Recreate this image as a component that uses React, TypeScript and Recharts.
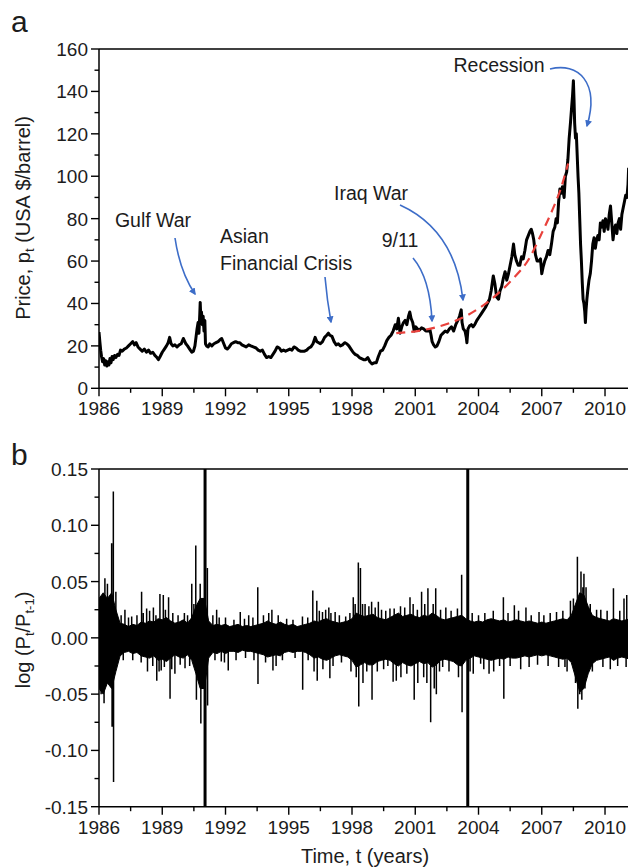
import React from 'react';
import { ComposedChart, Line, Area, XAxis, YAxis, ReferenceLine } from 'recharts';

const FONT = '"Liberation Sans", Arial, Helvetica, sans-serif';
const TEXT = '#1c1c1c';
const BLUE = '#3d6dc8';
const RED = '#e8413c';

// ---------- ticks ----------
const yearMajor = [1986, 1989, 1992, 1995, 1998, 2001, 2004, 2007, 2010];
const yearMinor = [1987.5, 1990.5, 1993.5, 1996.5, 1999.5, 2002.5, 2005.5, 2008.5];
const priceMajor = [0, 20, 40, 60, 80, 100, 120, 140, 160];
const priceMinor = [10, 30, 50, 70, 90, 110, 130, 150];
const retMajor = [-0.15, -0.1, -0.05, 0, 0.05, 0.1, 0.15];
const retMinor = [-0.125, -0.075, -0.025, 0.025, 0.075, 0.125];

// ---------- panel a: price (year, USD/barrel) ----------
const priceSeries: [number, number][] = [
  [1986.0, 26.5], [1986.04, 22], [1986.08, 18], [1986.12, 15], [1986.17, 12.5], [1986.22, 14], [1986.27, 11],
  [1986.32, 13], [1986.37, 10.5], [1986.42, 12.5], [1986.47, 11], [1986.52, 14], [1986.57, 12], [1986.62, 15],
  [1986.67, 13.5], [1986.74, 15.5], [1986.8, 14.5], [1986.88, 16], [1986.95, 15.5], [1987.02, 18], [1987.1, 17.5],
  [1987.2, 18.5], [1987.3, 19], [1987.4, 20], [1987.5, 21], [1987.6, 22], [1987.68, 20.5], [1987.76, 21.5],
  [1987.85, 19.5], [1987.95, 18.5], [1988.05, 17.5], [1988.15, 18.5], [1988.25, 17], [1988.35, 18], [1988.45, 16.5],
  [1988.55, 17], [1988.65, 15.5], [1988.75, 14.5], [1988.82, 13.5], [1988.9, 15], [1989.0, 17], [1989.1, 18.5],
  [1989.2, 20], [1989.28, 21.5], [1989.35, 24], [1989.42, 21], [1989.5, 20], [1989.6, 20.5], [1989.7, 19.5],
  [1989.8, 20.5], [1989.9, 21], [1990.0, 23.5], [1990.05, 22.5], [1990.12, 21], [1990.2, 20], [1990.3, 18.5],
  [1990.4, 17], [1990.48, 17.5], [1990.55, 20], [1990.6, 24], [1990.65, 28], [1990.7, 31], [1990.74, 26],
  [1990.78, 35], [1990.8, 40.5], [1990.83, 33], [1990.86, 36], [1990.9, 30], [1990.94, 34], [1990.98, 27],
  [1991.02, 32], [1991.05, 21], [1991.1, 20], [1991.18, 19.5], [1991.25, 21], [1991.35, 20], [1991.45, 21],
  [1991.55, 21.5], [1991.65, 22], [1991.75, 23], [1991.82, 23.5], [1991.9, 21.5], [1992.0, 19], [1992.08, 18.5],
  [1992.18, 19.5], [1992.28, 21], [1992.38, 21.5], [1992.48, 22], [1992.58, 21.5], [1992.68, 21.5], [1992.78, 20.5],
  [1992.88, 20], [1992.98, 19.5], [1993.1, 20.5], [1993.2, 20], [1993.32, 19.5], [1993.45, 19], [1993.55, 18],
  [1993.65, 17.5], [1993.75, 18], [1993.85, 16], [1993.95, 14.5], [1994.05, 15], [1994.15, 14.5], [1994.25, 16],
  [1994.35, 17.5], [1994.45, 19.5], [1994.55, 19], [1994.65, 17.5], [1994.75, 18], [1994.85, 17.5], [1994.95, 18],
  [1995.05, 18.5], [1995.15, 18], [1995.25, 19.5], [1995.35, 19], [1995.45, 18], [1995.55, 17.5], [1995.65, 17.5],
  [1995.75, 17.5], [1995.85, 18], [1995.95, 19], [1996.05, 19.5], [1996.15, 21], [1996.25, 24], [1996.33, 22],
  [1996.42, 21.5], [1996.5, 21], [1996.6, 22], [1996.7, 24], [1996.8, 25], [1996.88, 26], [1996.95, 25],
  [1997.05, 24.5], [1997.15, 22], [1997.25, 20.5], [1997.35, 21], [1997.45, 20], [1997.55, 20.5], [1997.65, 21.5],
  [1997.75, 21], [1997.85, 20], [1997.95, 18.5], [1998.05, 17], [1998.15, 16], [1998.25, 15.5], [1998.35, 14.5],
  [1998.45, 14], [1998.55, 13.5], [1998.65, 13.5], [1998.75, 14.5], [1998.85, 12.5], [1998.95, 11.5], [1999.05, 12],
  [1999.15, 12], [1999.25, 15], [1999.35, 17.5], [1999.45, 18], [1999.55, 20], [1999.65, 22.5], [1999.75, 24],
  [1999.85, 25], [1999.95, 27], [2000.05, 30], [2000.12, 28], [2000.2, 33], [2000.28, 26], [2000.36, 29],
  [2000.44, 31], [2000.52, 32], [2000.6, 30], [2000.68, 34], [2000.74, 36], [2000.8, 33], [2000.88, 31],
  [2000.95, 27], [2001.02, 29], [2001.1, 28], [2001.2, 27.5], [2001.3, 28.5], [2001.4, 28], [2001.5, 27],
  [2001.6, 27], [2001.7, 27.5], [2001.75, 25], [2001.8, 22], [2001.87, 20.5], [2001.95, 19.5], [2002.03, 20],
  [2002.12, 22], [2002.22, 25], [2002.32, 26], [2002.42, 27], [2002.52, 26.5], [2002.62, 28], [2002.72, 29],
  [2002.82, 27], [2002.92, 30], [2003.02, 32], [2003.1, 34], [2003.18, 37], [2003.22, 31], [2003.28, 28],
  [2003.36, 27], [2003.42, 24], [2003.45, 21.5], [2003.5, 28], [2003.58, 29.5], [2003.66, 30], [2003.74, 29],
  [2003.82, 30], [2003.92, 32], [2004.02, 33.5], [2004.12, 35], [2004.22, 36.5], [2004.32, 38], [2004.42, 40],
  [2004.52, 42], [2004.6, 46], [2004.7, 53], [2004.78, 49], [2004.86, 43], [2004.95, 42], [2005.02, 46],
  [2005.1, 48], [2005.18, 52], [2005.26, 55], [2005.34, 51], [2005.42, 54], [2005.5, 58], [2005.58, 62],
  [2005.66, 68], [2005.72, 63], [2005.8, 60], [2005.88, 58], [2005.96, 58], [2006.04, 62], [2006.12, 61],
  [2006.2, 65], [2006.28, 70], [2006.36, 72], [2006.44, 74], [2006.5, 75], [2006.56, 73], [2006.62, 70],
  [2006.7, 63], [2006.78, 60], [2006.86, 60], [2006.94, 61], [2007.0, 54], [2007.06, 57], [2007.14, 60],
  [2007.22, 62], [2007.3, 65], [2007.38, 63], [2007.46, 68], [2007.54, 74], [2007.62, 76], [2007.68, 80],
  [2007.74, 78], [2007.8, 88], [2007.86, 94], [2007.92, 92], [2007.98, 95], [2008.06, 90], [2008.12, 100],
  [2008.18, 102], [2008.24, 108], [2008.3, 118], [2008.36, 125], [2008.42, 133], [2008.46, 138], [2008.5, 145],
  [2008.53, 136], [2008.56, 125], [2008.6, 118], [2008.64, 120], [2008.68, 110], [2008.72, 100], [2008.76, 92],
  [2008.8, 80], [2008.84, 68], [2008.88, 60], [2008.92, 50], [2008.96, 42], [2009.0, 40], [2009.04, 36],
  [2009.07, 31], [2009.1, 37], [2009.14, 42], [2009.18, 46], [2009.24, 51], [2009.3, 54], [2009.36, 60],
  [2009.42, 68], [2009.48, 71], [2009.54, 66], [2009.6, 70], [2009.66, 72], [2009.72, 70], [2009.78, 78],
  [2009.84, 76], [2009.9, 79], [2009.96, 74], [2010.02, 80], [2010.08, 78], [2010.14, 75], [2010.2, 82],
  [2010.26, 86], [2010.32, 78], [2010.38, 70], [2010.44, 75], [2010.5, 77], [2010.56, 73], [2010.62, 78],
  [2010.68, 80], [2010.74, 75], [2010.8, 82], [2010.86, 85], [2010.92, 88], [2010.98, 91], [2011.04, 90],
  [2011.09, 96], [2011.12, 104],
];

// red dashed trend
const trendSeries: [number, number][] = [
  [2000.1, 26], [2001.4, 27.5], [2002.5, 30.3], [2003.5, 34.6], [2004.45, 40.8], [2005.5, 50.3],
  [2006.45, 62], [2006.92, 71.5], [2007.5, 84], [2007.88, 93.5], [2008.25, 106],
];

// ---------- panel b: log returns ----------
// [year, upper edge of dense band, lower edge of dense band]
const bandSeries: [number, number, number][] = [
  [1986.0, 0.035, -0.045], [1986.2, 0.04, -0.05], [1986.4, 0.035, -0.04], [1986.6, 0.04, -0.045], [1986.8, 0.025, -0.03],
  [1987.0, 0.013, -0.016], [1987.2, 0.012, -0.013], [1987.4, 0.01, -0.012], [1987.6, 0.012, -0.014], [1987.8, 0.011, -0.013],
  [1988.0, 0.014, -0.016], [1988.2, 0.013, -0.017], [1988.4, 0.015, -0.018], [1988.6, 0.014, -0.016], [1988.8, 0.017, -0.02],
  [1989.0, 0.016, -0.019], [1989.2, 0.018, -0.021], [1989.4, 0.015, -0.018], [1989.6, 0.013, -0.015], [1989.8, 0.014, -0.017],
  [1990.0, 0.016, -0.018], [1990.2, 0.013, -0.015], [1990.4, 0.018, -0.02], [1990.6, 0.028, -0.032], [1990.8, 0.035, -0.045],
  [1991.0, 0.035, -0.045], [1991.2, 0.015, -0.018], [1991.4, 0.011, -0.013], [1991.6, 0.012, -0.014], [1991.8, 0.011, -0.012],
  [1992.0, 0.012, -0.014], [1992.2, 0.01, -0.012], [1992.4, 0.011, -0.012], [1992.6, 0.012, -0.013], [1992.8, 0.01, -0.011],
  [1993.0, 0.011, -0.012], [1993.2, 0.01, -0.012], [1993.4, 0.011, -0.013], [1993.6, 0.012, -0.014], [1993.8, 0.013, -0.015],
  [1994.0, 0.015, -0.017], [1994.2, 0.013, -0.016], [1994.4, 0.012, -0.015], [1994.6, 0.014, -0.016], [1994.8, 0.012, -0.013],
  [1995.0, 0.011, -0.012], [1995.2, 0.012, -0.013], [1995.4, 0.01, -0.012], [1995.6, 0.011, -0.012], [1995.8, 0.012, -0.013],
  [1996.0, 0.013, -0.015], [1996.2, 0.015, -0.018], [1996.4, 0.014, -0.017], [1996.6, 0.016, -0.019], [1996.8, 0.017, -0.02],
  [1997.0, 0.015, -0.018], [1997.2, 0.014, -0.016], [1997.4, 0.013, -0.015], [1997.6, 0.014, -0.016], [1997.8, 0.015, -0.017],
  [1998.0, 0.017, -0.02], [1998.2, 0.022, -0.026], [1998.4, 0.02, -0.024], [1998.6, 0.019, -0.022], [1998.8, 0.02, -0.024],
  [1999.0, 0.021, -0.024], [1999.2, 0.018, -0.021], [1999.4, 0.017, -0.02], [1999.6, 0.016, -0.019], [1999.8, 0.018, -0.02],
  [2000.0, 0.02, -0.023], [2000.2, 0.022, -0.025], [2000.4, 0.019, -0.022], [2000.6, 0.02, -0.024], [2000.8, 0.021, -0.025],
  [2001.0, 0.019, -0.023], [2001.2, 0.018, -0.021], [2001.4, 0.02, -0.023], [2001.6, 0.019, -0.022], [2001.8, 0.022, -0.026],
  [2002.0, 0.02, -0.024], [2002.2, 0.017, -0.02], [2002.4, 0.016, -0.019], [2002.6, 0.017, -0.02], [2002.8, 0.018, -0.021],
  [2003.0, 0.019, -0.024], [2003.2, 0.02, -0.025], [2003.4, 0.017, -0.02], [2003.6, 0.015, -0.018], [2003.8, 0.014, -0.016],
  [2004.0, 0.015, -0.017], [2004.2, 0.014, -0.018], [2004.4, 0.016, -0.019], [2004.6, 0.017, -0.02], [2004.8, 0.016, -0.019],
  [2005.0, 0.015, -0.018], [2005.2, 0.016, -0.019], [2005.4, 0.014, -0.017], [2005.6, 0.015, -0.018], [2005.8, 0.016, -0.018],
  [2006.0, 0.015, -0.017], [2006.2, 0.014, -0.016], [2006.4, 0.015, -0.017], [2006.6, 0.014, -0.016], [2006.8, 0.013, -0.015],
  [2007.0, 0.014, -0.016], [2007.2, 0.013, -0.015], [2007.4, 0.014, -0.016], [2007.6, 0.015, -0.017], [2007.8, 0.016, -0.018],
  [2008.0, 0.017, -0.019], [2008.2, 0.016, -0.018], [2008.4, 0.02, -0.022], [2008.6, 0.03, -0.035], [2008.8, 0.04, -0.048],
  [2009.0, 0.038, -0.045], [2009.2, 0.028, -0.032], [2009.4, 0.02, -0.023], [2009.6, 0.018, -0.02], [2009.8, 0.017, -0.019],
  [2010.0, 0.016, -0.018], [2010.2, 0.015, -0.017], [2010.4, 0.017, -0.02], [2010.6, 0.016, -0.018], [2010.8, 0.015, -0.017],
  [2011.0, 0.016, -0.018], [2011.2, 0.017, -0.019],
];

// isolated large daily returns [year, value]
const spikeSeries: [number, number][] = [
  [1986.1, -0.05], [1986.2, 0.039], [1986.24, -0.058], [1986.28, 0.053], [1986.4, 0.048], [1986.6, 0.084],
  [1986.62, -0.079], [1986.68, 0.13], [1986.69, -0.128], [1986.8, 0.041], [1987.23, 0.025], [1987.55, 0.019],
  [1988.02, 0.041], [1988.26, 0.026], [1988.58, 0.027], [1988.74, -0.038], [1988.89, 0.039], [1988.95, -0.029],
  [1989.05, 0.038], [1989.3, 0.036], [1989.37, -0.054], [1989.6, -0.032], [1990.05, 0.022], [1990.08, -0.027],
  [1990.4, 0.048], [1990.59, 0.082], [1990.62, -0.055], [1990.8, 0.048], [1990.83, -0.076],
  [1991.14, 0.062], [1991.15, -0.06], [1991.58, 0.025], [1991.8, -0.021], [1992.13, -0.029],
  [1992.7, 0.023], [1993.1, 0.02], [1993.53, 0.045], [1993.54, -0.041], [1994.2, 0.025], [1994.25, -0.029],
  [1995.65, 0.019], [1995.66, -0.046], [1996.14, 0.042], [1996.33, 0.033], [1996.35, -0.038], [1996.6, 0.023],
  [1996.9, 0.027], [1996.95, -0.036], [1997.2, 0.023], [1997.7, 0.019], [1998.06, 0.036], [1998.3, 0.067],
  [1998.32, -0.061], [1998.4, 0.062], [1998.62, 0.03], [1998.93, 0.032], [1998.95, -0.055], [1999.25, 0.032],
  [1999.8, 0.026], [1999.95, -0.039], [2000.1, -0.038], [2000.5, 0.027], [2000.75, 0.036], [2000.95, -0.055],
  [2001.3, 0.041], [2001.6, 0.044], [2001.73, -0.075], [2001.97, 0.044], [2002.0, -0.05], [2002.3, -0.026],
  [2002.45, 0.027], [2003.2, 0.056], [2003.22, -0.066], [2003.75, -0.032],
  [2004.1, -0.023], [2004.5, -0.032], [2005.18, 0.036], [2005.2, -0.054], [2005.7, 0.029], [2006.25, 0.027],
  [2006.87, 0.023], [2008.1, -0.026], [2008.36, 0.033], [2008.69, 0.072], [2008.71, -0.063], [2008.86, 0.059],
  [2008.9, -0.055], [2009.0, 0.057], [2009.1, 0.045], [2009.6, 0.025], [2010.4, 0.044], [2010.42, -0.02],
  [2011.03, 0.038],
];

// smaller "hair" returns fringing the dense band [year, value]
const hairSeries: [number, number][] = [
  [1987.05, 0.02], [1987.15, -0.02], [1987.4, 0.018], [1987.6, -0.02], [1987.8, 0.02], [1988.0, -0.022],
  [1988.1, 0.022], [1988.3, -0.03], [1988.4, 0.024], [1988.55, -0.025], [1988.7, 0.02], [1988.85, -0.03],
  [1989.1, -0.026], [1989.15, 0.025], [1989.45, -0.028], [1989.5, 0.022], [1989.75, 0.02], [1989.85, -0.024],
  [1990.2, 0.02], [1990.3, -0.025], [1990.5, 0.03], [1991.4, 0.02], [1991.5, -0.02], [1991.7, 0.018],
  [1991.95, -0.022], [1992.0, 0.018], [1992.4, 0.016], [1992.5, -0.02], [1992.9, 0.017], [1992.95, -0.018],
  [1993.3, 0.018], [1993.35, -0.02], [1993.8, 0.02], [1993.9, -0.022], [1994.05, 0.022], [1994.4, -0.025],
  [1994.5, 0.02], [1994.7, -0.02], [1994.9, 0.017], [1995.2, 0.016], [1995.3, -0.018], [1995.9, 0.018],
  [1995.92, -0.02], [1996.2, -0.03], [1996.45, 0.024], [1996.62, -0.028], [1996.75, 0.025], [1997.0, 0.022],
  [1997.1, -0.025], [1997.4, 0.02], [1997.5, -0.022], [1997.9, 0.022], [1997.95, -0.03], [1998.15, 0.03],
  [1998.2, -0.035], [1998.5, 0.03], [1998.52, -0.04], [1998.7, -0.03], [1998.8, 0.028], [1999.1, 0.027],
  [1999.2, -0.03], [1999.4, 0.025], [1999.5, -0.028], [1999.6, 0.024], [1999.7, -0.025], [2000.0, 0.026],
  [2000.3, 0.028], [2000.32, -0.035], [2000.6, -0.032], [2000.9, 0.03], [2001.1, 0.025], [2001.12, -0.04],
  [2001.4, -0.035], [2001.45, 0.03], [2001.55, -0.04], [2001.85, 0.03], [2001.9, -0.045], [2002.15, -0.03],
  [2002.2, 0.025], [2002.6, -0.03], [2002.7, 0.024], [2003.0, 0.026], [2003.05, -0.035], [2003.6, -0.03],
  [2003.7, 0.022], [2004.0, 0.02], [2004.25, -0.028], [2004.3, 0.022], [2004.7, 0.024], [2004.72, -0.03],
  [2005.0, -0.025], [2005.4, 0.022], [2005.5, -0.025], [2005.9, 0.024], [2006.0, -0.028], [2006.4, -0.026],
  [2006.5, 0.02], [2006.8, -0.024], [2007.1, 0.02], [2007.3, -0.025], [2007.4, 0.022], [2007.7, 0.023],
  [2007.8, -0.026], [2008.0, 0.024], [2008.2, -0.03], [2008.5, 0.035], [2008.6, -0.04], [2008.8, -0.05],
  [2008.95, 0.045], [2009.05, -0.045], [2009.3, 0.03], [2009.4, -0.03], [2009.8, 0.025], [2009.9, -0.026],
  [2010.1, 0.024], [2010.25, -0.028], [2010.6, -0.025], [2010.7, 0.024], [2010.9, 0.035], [2011.0, -0.026],
];

// extreme returns that run off the axis range [year, up, down]
const extremeSeries: [number, number, number][] = [
  [1991.03, 0.15, -0.15],
  [2003.49, 0.15, -0.15],
];

// ---------- layout ----------
const W = 628;
const PLOT_LEFT = 99;
const X_DOMAIN: [number, number] = [1986, 2011.09];

const priceData = [
  ...priceSeries.map(([t, p]) => ({ t, p })),
  ...trendSeries.map(([t, v]) => ({ t, trend: v })),
].sort((a, b) => a.t - b.t);

const retData = [
  ...bandSeries.map(([t, hi, lo]) => ({ t, band: [lo, hi] as [number, number] })),
  ...[...spikeSeries, ...hairSeries]
    .sort((a, b) => a[0] - b[0])
    .flatMap(([t, v]) => [{ t, s: 0 }, { t, s: v }, { t, s: 0 }]),
  ...extremeSeries.flatMap(([t, up, dn]) => [{ t, x: 0 }, { t, x: up }, { t, x: dn }, { t, x: 0 }]),
].sort((a, b) => a.t - b.t);

const isYearMajor = (v: number) => yearMajor.includes(v);

const XTick = (props: any) => {
  const { x, y, payload } = props;
  const major = isYearMajor(payload.value);
  return (
    <g>
      <line x1={x} x2={x} y1={y} y2={y + (major ? 8 : 4.5)} stroke="#000" strokeWidth={1.4} />
      {major && (
        <text x={x} y={y + 27} textAnchor="middle" fontSize={19} fontFamily={FONT} fill={TEXT}>
          {payload.value}
        </text>
      )}
    </g>
  );
};

const makeYTick = (majors: number[], fmt: (v: number) => string) => (props: any) => {
  const { x, y, payload } = props;
  const major = majors.some((m) => Math.abs(m - payload.value) < 1e-9);
  return (
    <g>
      <line x1={x} x2={x - (major ? 8 : 4.5)} y1={y} y2={y} stroke="#000" strokeWidth={1.4} />
      {major && (
        <text x={x - 11} y={y + 7} textAnchor="end" fontSize={19} fontFamily={FONT} fill={TEXT}>
          {fmt(payload.value)}
        </text>
      )}
    </g>
  );
};

const PriceYTick = makeYTick(priceMajor, (v) => String(v));
const RetYTick = makeYTick(retMajor, (v) => (Math.abs(v) < 1e-9 ? '0.00' : v.toFixed(2)));

const axisLine = { stroke: '#000', strokeWidth: 1.5 };

function PanelA() {
  return (
    <ComposedChart width={W} height={430} data={priceData} margin={{ top: 49, right: 0, bottom: 1.7, left: 0 }}>
      <XAxis
        dataKey="t"
        type="number"
        domain={X_DOMAIN}
        allowDataOverflow
        ticks={[...yearMajor, ...yearMinor].sort((a, b) => a - b)}
        interval={0}
        tick={(p: any) => <XTick {...p} />}
        tickLine={false}
        tickSize={0}
        tickMargin={0}
        axisLine={axisLine}
        height={40}
      />
      <YAxis
        type="number"
        domain={[0, 160]}
        allowDataOverflow
        ticks={[...priceMajor, ...priceMinor].sort((a, b) => a - b)}
        interval={0}
        tick={(p: any) => <PriceYTick {...p} />}
        tickLine={false}
        tickSize={0}
        tickMargin={0}
        axisLine={axisLine}
        width={PLOT_LEFT}
      />
      <ReferenceLine y={160} stroke="#000" strokeWidth={1.5} />
      <Line
        dataKey="p"
        type="linear"
        stroke="#000"
        strokeWidth={3}
        strokeLinejoin="round"
        dot={false}
        connectNulls
        isAnimationActive={false}
      />
      <Line
        dataKey="trend"
        type="monotone"
        stroke={RED}
        strokeWidth={2.2}
        strokeDasharray="9 6"
        dot={false}
        connectNulls
        isAnimationActive={false}
      />
    </ComposedChart>
  );
}

function PanelB() {
  return (
    <ComposedChart width={W} height={437} data={retData} margin={{ top: 39, right: 0, bottom: 0.3, left: 0 }}>
      <XAxis
        dataKey="t"
        type="number"
        domain={X_DOMAIN}
        allowDataOverflow
        ticks={[...yearMajor, ...yearMinor].sort((a, b) => a - b)}
        interval={0}
        tick={(p: any) => <XTick {...p} />}
        tickLine={false}
        tickSize={0}
        tickMargin={0}
        axisLine={axisLine}
        height={60}
      />
      <YAxis
        type="number"
        domain={[-0.15, 0.15]}
        allowDataOverflow
        ticks={[...retMajor, ...retMinor].sort((a, b) => a - b)}
        interval={0}
        tick={(p: any) => <RetYTick {...p} />}
        tickLine={false}
        tickSize={0}
        tickMargin={0}
        axisLine={axisLine}
        width={PLOT_LEFT}
      />
      <ReferenceLine y={0.15} stroke="#000" strokeWidth={1.5} />
      <Area
        dataKey="band"
        type="linear"
        stroke="#000"
        strokeWidth={1}
        fill="#000"
        fillOpacity={1}
        connectNulls
        dot={false}
        activeDot={false}
        isAnimationActive={false}
      />
      <Line
        dataKey="s"
        type="linear"
        stroke="#000"
        strokeWidth={1.5}
        dot={false}
        connectNulls
        isAnimationActive={false}
      />
      <Line
        dataKey="x"
        type="linear"
        stroke="#000"
        strokeWidth={3}
        dot={false}
        connectNulls
        isAnimationActive={false}
      />
    </ComposedChart>
  );
}

function Overlay() {
  const t = { fontFamily: FONT, fill: TEXT, fontSize: 19.5 } as const;
  return (
    <svg width={W} height={867} style={{ position: 'absolute', left: 0, top: 0, pointerEvents: 'none' }}>
      <defs>
        <marker id="arr" viewBox="0 0 10 10" refX="8" refY="5" markerWidth="7" markerHeight="7" orient="auto-start-reverse" markerUnits="userSpaceOnUse">
          <path d="M0,0 L10,5 L0,10 z" fill={BLUE} />
        </marker>
      </defs>
      <text x={11} y={32} fontSize={30} fontFamily={FONT} fill={TEXT}>a</text>
      <text x={11} y={465} fontSize={30} fontFamily={FONT} fill={TEXT}>b</text>

      <text transform="rotate(-90 30 218)" x={30} y={218} textAnchor="middle" fontSize={20} fontFamily={FONT} fill={TEXT}>
        Price, p<tspan fontSize={13} dy={4}>t</tspan>
        <tspan dy={-4}> (USA $/barrel)</tspan>
      </text>
      <text transform="rotate(-90 30 640)" x={30} y={640} textAnchor="middle" fontSize={20} fontFamily={FONT} fill={TEXT}>
        log (P<tspan fontSize={13} dy={4}>t</tspan>
        <tspan dy={-4}>/P</tspan>
        <tspan fontSize={13} dy={4}>t-1</tspan>
        <tspan dy={-4}>)</tspan>
      </text>
      <text x={365} y={863} textAnchor="middle" fontSize={20} fontFamily={FONT} fill={TEXT}>Time, t (years)</text>

      <text x={153} y={227} textAnchor="middle" {...t}>Gulf War</text>
      <path d="M175,238 Q180,272 195,294" fill="none" stroke={BLUE} strokeWidth={1.6} markerEnd="url(#arr)" />

      <text x={220} y={243} {...t}>Asian</text>
      <text x={220} y={270} {...t}>Financial Crisis</text>
      <path d="M325,277 Q327,300 331,322" fill="none" stroke={BLUE} strokeWidth={1.6} markerEnd="url(#arr)" />

      <text x={400} y={247} textAnchor="middle" {...t}>9/11</text>
      <path d="M413,258 Q430,278 432,321" fill="none" stroke={BLUE} strokeWidth={1.6} markerEnd="url(#arr)" />

      <text x={371} y={200} textAnchor="middle" {...t}>Iraq War</text>
      <path d="M400,205 Q455,230 463,300" fill="none" stroke={BLUE} strokeWidth={1.6} markerEnd="url(#arr)" />

      <text x={499} y={72} textAnchor="middle" {...t}>Recession</text>
      <path d="M550,69 C578,62 600,82 587,126" fill="none" stroke={BLUE} strokeWidth={1.6} markerEnd="url(#arr)" />
    </svg>
  );
}

export default function App() {
  return (
    <div style={{ position: 'absolute', left: 0, top: 0, width: W, height: 867, overflow: 'hidden', background: '#fff' }}>
      <div style={{ position: 'absolute', left: 0, top: 0 }}>
        <PanelA />
      </div>
      <div style={{ position: 'absolute', left: 0, top: 430 }}>
        <PanelB />
      </div>
      <Overlay />
    </div>
  );
}
